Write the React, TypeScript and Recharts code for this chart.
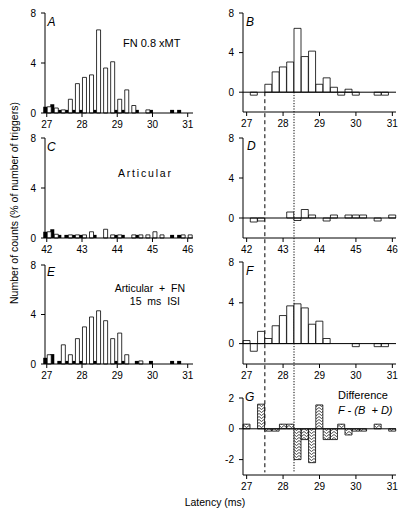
import React from "react";
import { ComposedChart, Bar, XAxis, YAxis, ReferenceLine } from "recharts";

const FONT = '"Liberation Sans", Arial, Helvetica, sans-serif';

// Bin centres (ms), 0.2 ms bins
const latencyBins = [27.0, 27.2, 27.4, 27.6, 27.8, 28.0, 28.2, 28.4, 28.6, 28.8, 29.0, 29.2, 29.4, 29.6, 29.8, 30.0, 30.2, 30.4, 30.6, 30.8, 31.0];
const articularBins = [42.0, 42.2, 42.4, 42.6, 42.8, 43.0, 43.2, 43.4, 43.6, 43.8, 44.0, 44.2, 44.4, 44.6, 44.8, 45.0, 45.2, 45.4, 45.6, 45.8, 46.0];
const latencyTicks = [27, 28, 29, 30, 31];
const articularTicks = [42, 43, 44, 45, 46];

// A - FN 0.8 xMT (black = control, white = test)
const fnControl = [0.5, 0.7, 0.25, 0.25, 0.25, 0.25, 0, 0.25, 0, 0, 0.25, 0.25, 0, 0.25, 0, 0.25, 0, 0, 0.25, 0.25, 0];
const fnTest = [0.5, 0.4, 0.25, 1.1, 2.35, 2.85, 3.05, 6.65, 3.6, 4.1, 1.1, 1.85, 0.6, 0, 0.25, 0, 0, 0, 0, 0, 0];
// B - net FN
const fnNet = [0, -0.3, 0, 0.8, 2.05, 2.55, 3.05, 6.45, 3.6, 4.15, 0.8, 1.45, 0.5, -0.3, 0.3, -0.3, 0, 0, -0.3, -0.3, 0];

// C - Articular
const artControl = [0.5, 0.7, 0.25, 0.25, 0.25, 0.25, 0, 0.25, 0, 0, 0.25, 0.25, 0, 0.25, 0, 0, 0, 0, 0.25, 0.25, 0];
const artTest = [0.5, 0.3, 0, 0.25, 0.25, 0.25, 0.5, 0, 0.7, 0.25, 0.25, 0, 0.25, 0.25, 0.25, 0.5, 0.25, 0, 0, 0.25, 0.25];
// D - net articular
const artNet = [0, -0.4, -0.3, 0, 0, 0, 0.6, -0.25, 0.85, 0.3, 0, -0.3, 0.3, 0, 0.3, 0.3, 0.3, 0, -0.3, 0, 0.3];

// E - Articular + FN, 15 ms ISI
const comboControl = [0.5, 0.8, 0.25, 0.25, 0.25, 0.25, 0, 0.25, 0, 0, 0.25, 0.25, 0, 0.25, 0, 0.25, 0, 0, 0.25, 0.25, 0];
const comboTest = [0.75, 0, 1.55, 0.75, 2.05, 3.0, 3.8, 4.3, 3.5, 2.05, 2.5, 0.75, 0, 0.25, 0, 0, 0, 0, 0, 0, 0];
// F - net combined
const comboNet = [0.3, -0.75, 1.2, 0.5, 1.75, 2.75, 3.7, 3.9, 3.5, 1.9, 2.2, 0.5, 0, 0, 0, -0.3, 0, 0, -0.3, -0.3, 0];

// G - difference F - (B + D)
const difference = [0.3, 0, 1.6, -0.15, -0.15, 0.3, 0.3, -2.0, -0.7, -2.2, 1.55, -0.7, -0.7, 0.3, -0.4, -0.15, -0.15, 0, 0.3, 0, -0.15];

// vertical markers (ms)
const earlyMarker = 27.5;
const peakMarker = 28.3;

const pairRows = (bins: number[], control: number[], test: number[]) =>
  bins.map((t, i) => ({ t, control: control[i], test: test[i] }));
const netRows = (bins: number[], net: number[]) => bins.map((t, i) => ({ t, net: net[i] }));

const Y_AXIS_W = 34;
const X_AXIS_H = 24;
const PAD_T = 6;
const PAD_R = 8;

const tickStyle = { fill: "#000", fontSize: 10, fontFamily: FONT };

type PanelProps = {
  left: number;
  top: number;
  plotW: number;
  plotH: number;
  data: any[];
  xDomain: [number, number];
  xTicks: number[];
  yDomain: [number, number];
  yTicks: number[];
  children: React.ReactNode;
};

function Panel({ left, top, plotW, plotH, data, xDomain, xTicks, yDomain, yTicks, children }: PanelProps) {
  return (
    <div style={{ position: "absolute", left: left - Y_AXIS_W, top: top - PAD_T }}>
      <ComposedChart
        width={plotW + Y_AXIS_W + PAD_R}
        height={plotH + PAD_T + X_AXIS_H}
        data={data}
        margin={{ top: PAD_T, right: PAD_R, bottom: 0, left: 0 }}
        barCategoryGap={0}
        barGap={0}
      >
        <defs>
          <pattern id="zigzag" width="5" height="3" patternUnits="userSpaceOnUse">
            <rect width="5" height="3" fill="#fff" />
            <path d="M0 0.5 L2.5 2.5 L5 0.5" stroke="#000" strokeWidth={0.7} fill="none" />
          </pattern>
        </defs>
        <XAxis
          dataKey="t"
          type="number"
          domain={xDomain}
          ticks={xTicks}
          interval={0}
          height={X_AXIS_H}
          tick={tickStyle}
          tickSize={4}
          tickMargin={4}
          axisLine={{ stroke: "#000" }}
          tickLine={{ stroke: "#000" }}
        />
        <YAxis
          type="number"
          domain={yDomain}
          ticks={yTicks}
          interval={0}
          width={Y_AXIS_W}
          tick={tickStyle}
          tickSize={4}
          tickMargin={5}
          axisLine={{ stroke: "#000" }}
          tickLine={{ stroke: "#000" }}
        />
        {children}
      </ComposedChart>
    </div>
  );
}

function Txt({ x, y, size = 10.5, italic = false, anchor = "start", spacing = 0, children }: any) {
  const tx = anchor === "middle" ? "-50%" : anchor === "end" ? "-100%" : "0";
  return (
    <div
      style={{
        position: "absolute",
        left: x,
        top: y,
        transform: `translate(${tx}, -50%)`,
        fontFamily: FONT,
        fontSize: size,
        fontStyle: italic ? "italic" : "normal",
        letterSpacing: spacing,
        lineHeight: 1,
        whiteSpace: "pre",
        color: "#000",
      }}
    >
      {children}
    </div>
  );
}

const pairBars = [
  <Bar key="c" dataKey="control" fill="#000" stroke="none" isAnimationActive={false} />,
  <Bar key="t" dataKey="test" fill="#fff" stroke="#000" strokeWidth={0.8} isAnimationActive={false} />,
];

const netBars = (fill: string) => [
  <Bar key="n" dataKey="net" fill={fill} stroke="#000" strokeWidth={0.8} isAnimationActive={false} />,
  <ReferenceLine key="z" y={0} stroke="#000" strokeWidth={1} />,
];

export default function App() {
  const leftX = 45;
  const leftW = 148;
  const rightX = 243;
  const rightW = 153;
  const leftDomain: [number, number] = [26.95, 31.15];
  const leftArtDomain: [number, number] = [41.95, 46.15];
  const rightDomain: [number, number] = [26.9, 31.1];
  const rightArtDomain: [number, number] = [41.9, 46.1];

  return (
    <div style={{ position: "absolute", left: 0, top: 0, width: 409, height: 516, background: "#fff", overflow: "hidden" }}>
      <style>{`.recharts-surface{overflow:visible}`}</style>

      {/* left column */}
      <Panel left={leftX} top={13} plotW={leftW} plotH={100} data={pairRows(latencyBins, fnControl, fnTest)}
        xDomain={leftDomain} xTicks={latencyTicks} yDomain={[0, 8]} yTicks={[0, 4, 8]}>
        {pairBars}
      </Panel>
      <Panel left={leftX} top={138} plotW={leftW} plotH={100} data={pairRows(articularBins, artControl, artTest)}
        xDomain={leftArtDomain} xTicks={articularTicks} yDomain={[0, 8]} yTicks={[0, 4, 8]}>
        {pairBars}
      </Panel>
      <Panel left={leftX} top={265} plotW={leftW} plotH={99} data={pairRows(latencyBins, comboControl, comboTest)}
        xDomain={leftDomain} xTicks={latencyTicks} yDomain={[0, 8]} yTicks={[0, 4, 8]}>
        {pairBars}
      </Panel>

      {/* right column */}
      <Panel left={rightX} top={13} plotW={rightW} plotH={99} data={netRows(latencyBins, fnNet)}
        xDomain={rightDomain} xTicks={latencyTicks} yDomain={[-2, 8]} yTicks={[0, 4, 8]}>
        {netBars("#fff")}
        <ReferenceLine segment={[{ x: earlyMarker, y: 0 }, { x: earlyMarker, y: -38.4 }]} stroke="#000"
          strokeWidth={1} strokeDasharray="4 3" ifOverflow="visible" />
        <ReferenceLine segment={[{ x: peakMarker, y: 0 }, { x: peakMarker, y: -38.4 }]} stroke="#000"
          strokeWidth={1} strokeDasharray="1.2 1.5" ifOverflow="visible" />
      </Panel>
      <Panel left={rightX} top={138} plotW={rightW} plotH={100} data={netRows(articularBins, artNet)}
        xDomain={rightArtDomain} xTicks={articularTicks} yDomain={[-2, 8]} yTicks={[0, 4, 8]}>
        {netBars("#fff")}
      </Panel>
      <Panel left={rightX} top={262} plotW={rightW} plotH={102} data={netRows(latencyBins, comboNet)}
        xDomain={rightDomain} xTicks={latencyTicks} yDomain={[-2, 8]} yTicks={[0, 4, 8]}>
        {netBars("#fff")}
      </Panel>
      <Panel left={rightX} top={398} plotW={rightW} plotH={77} data={netRows(latencyBins, difference)}
        xDomain={rightDomain} xTicks={latencyTicks} yDomain={[-3, 2]} yTicks={[-2, 0, 2]}>
        {netBars("url(#zigzag)")}
      </Panel>

      {/* panel letters */}
      <Txt x={47.5} y={22} size={12} italic>A</Txt>
      <Txt x={246} y={22} size={12} italic>B</Txt>
      <Txt x={47} y={147} size={12} italic>C</Txt>
      <Txt x={247} y={146} size={12} italic>D</Txt>
      <Txt x={47} y={272} size={12} italic>E</Txt>
      <Txt x={246} y={271} size={12} italic>F</Txt>
      <Txt x={245} y={397} size={12} italic>G</Txt>

      {/* annotations */}
      <Txt x={123} y={43} size={11}>FN 0.8 xMT</Txt>
      <Txt x={118} y={173} size={10.5} spacing={1.8}>Articular</Txt>
      <Txt x={185} y={288} size={10.5} anchor="end">{"Articular  +  FN"}</Txt>
      <Txt x={180} y={301} size={10.5} anchor="end">{"15  ms  ISI"}</Txt>
      <Txt x={338} y={394.5} size={11}>Difference</Txt>
      <Txt x={338} y={410} size={11} italic>{"F - (B  + D)"}</Txt>

      <Txt x={215} y={502} size={10.5} anchor="middle">Latency (ms)</Txt>
      <div
        style={{
          position: "absolute",
          left: 14,
          top: 203,
          transform: "translate(-50%, -50%) rotate(-90deg)",
          fontFamily: FONT,
          fontSize: 10.5,
          whiteSpace: "nowrap",
          lineHeight: 1,
          color: "#000",
        }}
      >
        Number of counts (% of number of triggers)
      </div>
    </div>
  );
}
